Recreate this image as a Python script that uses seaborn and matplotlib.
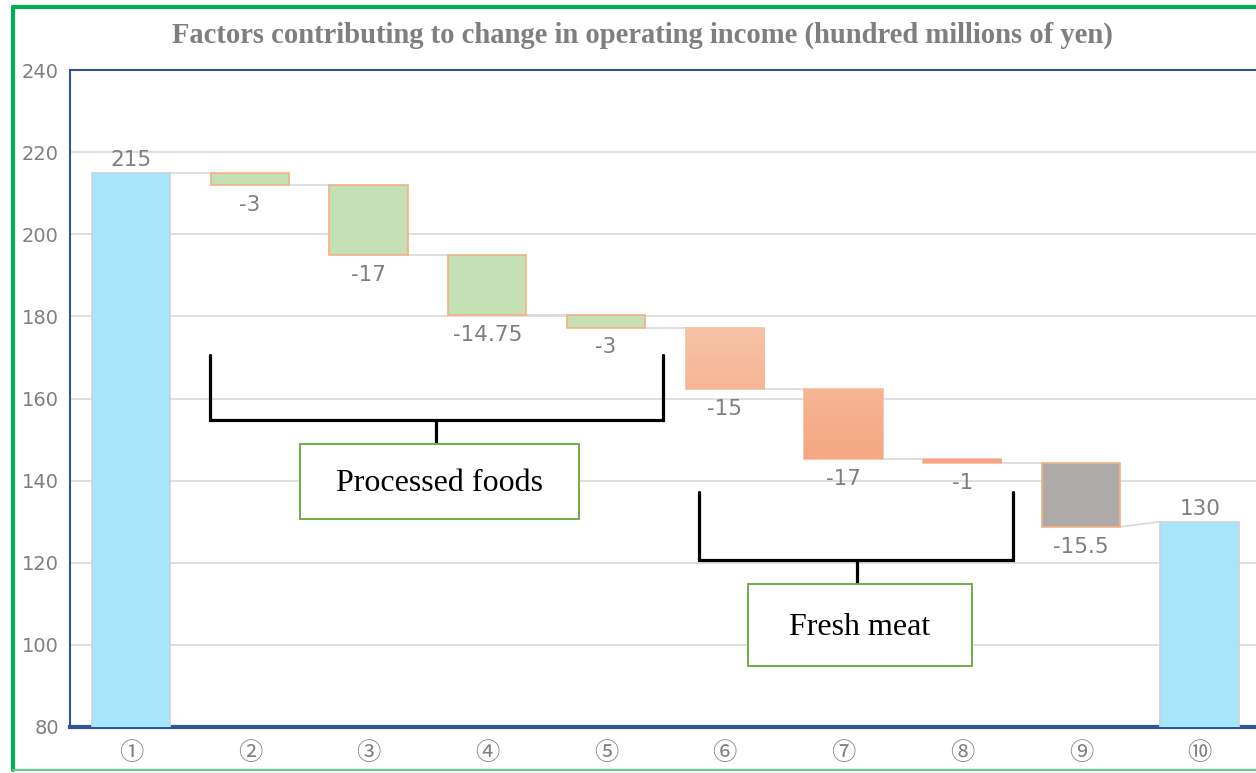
import numpy as np
import pandas as pd
import matplotlib
matplotlib.use("Agg")
import matplotlib.pyplot as plt
from matplotlib.colors import LinearSegmentedColormap, Normalize
from matplotlib.patches import Rectangle
from matplotlib.lines import Line2D
import seaborn as sns

# ---- data -----------------------------------------------------------------
steps = ["①", "②", "③", "④", "⑤", "⑥", "⑦", "⑧", "⑨", "⑩"]
changes = [215, -3, -17, -14.75, -3, -15, -17, -1, -15.5, 130]
is_total = [True, False, False, False, False, False, False, False, False, True]
groups = ["total", "processed", "processed", "processed", "processed",
          "fresh", "fresh", "fresh", "other", "total"]
segment_labels = ["Processed foods", "Fresh meat"]
y_ticks = [80, 100, 120, 140, 160, 180, 200, 220, 240]
title = "Factors contributing to change in operating income (hundred millions of yen)"

# ---- waterfall geometry ---------------------------------------------------
bottoms, tops = [], []
running = 0.0
for v, tot in zip(changes, is_total):
    if tot:
        b, t = 0.0, float(v)
        running = float(v)
    else:
        t = running
        b = running + v
        running = b
    bottoms.append(b)
    tops.append(t)
heights = [t - b for t, b in zip(tops, bottoms)]
df = pd.DataFrame({"step": steps, "height": heights, "bottom": bottoms,
                   "top": tops, "change": changes, "group": groups})

# ---- styling --------------------------------------------------------------
sns.set_style("white")
plt.rcParams["font.family"] = ["DejaVu Sans", "Noto Sans CJK JP"]

face = {"total": "#A7E5FB", "processed": "#C5E0B4", "fresh": "#F4AF8C", "other": "#AEAAAA"}
edge = {"total": "#C8D4DA", "processed": "#F4B183", "fresh": "#F6BC9F", "other": "#F4B183"}
label_gray = "#7F7F7F"
axis_blue = "#2F5597"
grid_gray = "#D9D9D9"
bar_w = 0.66

fig = plt.figure(figsize=(12.56, 7.73), dpi=100)
ax = fig.add_axes([70 / 1256, 46 / 773, 1189 / 1256, 657 / 773])

sns.barplot(data=df, x="step", y="height", bottom=df["bottom"].to_numpy(),
            width=bar_w, errorbar=None, ax=ax, color=face["total"], linewidth=1.2)

bars = ax.containers[0]
for patch, g in zip(bars, groups):
    patch.set_facecolor(face[g])
    patch.set_edgecolor(edge[g])
    patch.set_zorder(2)
    if g == "total":
        # the start/end columns sit on top of the base axis line
        patch.set_zorder(3)

# vertical gradient on the fresh-meat bars
grad = LinearSegmentedColormap.from_list("salmon", ["#F4A27C", "#F7C5AA"])
gnorm = Normalize(140, 180)
for patch, g in zip(bars, groups):
    if g != "fresh":
        continue
    x0, y0 = patch.get_x(), patch.get_y()
    w, h = patch.get_width(), patch.get_height()
    yy = np.linspace(y0 + h, y0, 64).reshape(-1, 1)
    im = ax.imshow(yy, cmap=grad, norm=gnorm, extent=[x0, x0 + w, y0, y0 + h],
                   aspect="auto", interpolation="bilinear", zorder=2.1)
    im.set_clip_path(patch)

# connectors between consecutive bars
for i in range(len(steps) - 1):
    y_end = tops[i] if is_total[i] else bottoms[i]
    y_start = tops[i + 1]
    ax.plot([i + bar_w / 2, i + 1 - bar_w / 2], [y_end, y_start],
            color=grid_gray, lw=1.2, zorder=1.5)

# value labels
for i, (v, tot) in enumerate(zip(changes, is_total)):
    if tot:
        ax.annotate(f"{v:g}", xy=(i, tops[i]), xytext=(0, 2), textcoords="offset points",
                    ha="center", va="bottom", fontsize=15.5, color=label_gray)
    else:
        ax.annotate(f"{v:g}", xy=(i, bottoms[i]), xytext=(0, -7), textcoords="offset points",
                    ha="center", va="top", fontsize=15.5, color=label_gray)


# segment brackets with captions
def bracket(x_left, x_right, y_arm, y_bar, x_stem, y_stem, box, text):
    ax.plot([x_left, x_left, x_right, x_right], [y_arm, y_bar, y_bar, y_arm],
            color="black", lw=2.3, solid_joinstyle="miter", zorder=4)
    ax.plot([x_stem, x_stem], [y_bar, y_stem], color="black", lw=2.3, zorder=4)
    bx0, bx1, by0, by1 = box
    ax.add_patch(Rectangle((bx0, by0), bx1 - bx0, by1 - by0, facecolor="white",
                           edgecolor="#70AD47", lw=1.4, zorder=4))
    ax.text((bx0 + bx1) / 2, (by0 + by1) / 2 - 0.5, text, ha="center", va="center",
            fontsize=23, family="Liberation Serif", color="black", zorder=5)


bracket(0.666, 4.48, 170.6, 154.8, 2.57, 148.9, (1.42, 3.77, 130.7, 148.9), segment_labels[0])
bracket(4.78, 7.43, 137.2, 120.7, 6.11, 114.8, (5.20, 7.08, 94.9, 114.8), segment_labels[1])

# axes
ax.set_xlim(-0.515, 9.5)
ax.set_ylim(80, 240)
ax.set_yticks(y_ticks)
ax.set_xlabel("")
ax.set_ylabel("")
ax.yaxis.grid(True, color=grid_gray, lw=1.2, zorder=0)
ax.xaxis.grid(False)
ax.set_axisbelow(True)
ax.tick_params(axis="y", length=0, pad=8, labelsize=14, labelcolor=label_gray)
ax.tick_params(axis="x", length=0, pad=9, labelcolor=label_gray)
for lbl in ax.get_xticklabels():
    lbl.set_fontfamily(["Noto Sans CJK JP", "DejaVu Sans"])
    lbl.set_fontsize(17.5)
for side in ("left", "top"):
    ax.spines[side].set_color(axis_blue)
    ax.spines[side].set_linewidth(1.5)
ax.spines["bottom"].set_color(axis_blue)
ax.spines["bottom"].set_linewidth(3)
ax.spines["right"].set_visible(False)

# title
fig.text(642 / 1256, 1 - 35 / 773, title, ha="center", va="center", fontsize=20.6,
         fontweight="bold", family="Liberation Serif", color=label_gray)

# outer frame
fig.add_artist(Line2D([13 / 1256, 13 / 1256], [1 - 770 / 773, 1 - 7 / 773],
                      transform=fig.transFigure, color="#00B050", lw=3))
fig.add_artist(Line2D([13 / 1256, 1.01], [1 - 7 / 773, 1 - 7 / 773],
                      transform=fig.transFigure, color="#00B050", lw=3))
fig.add_artist(Line2D([13 / 1256, 1.01], [1 - 770 / 773, 1 - 770 / 773],
                      transform=fig.transFigure, color="#5FD08A", lw=1.5))

fig.savefig("out.png", dpi=100)
